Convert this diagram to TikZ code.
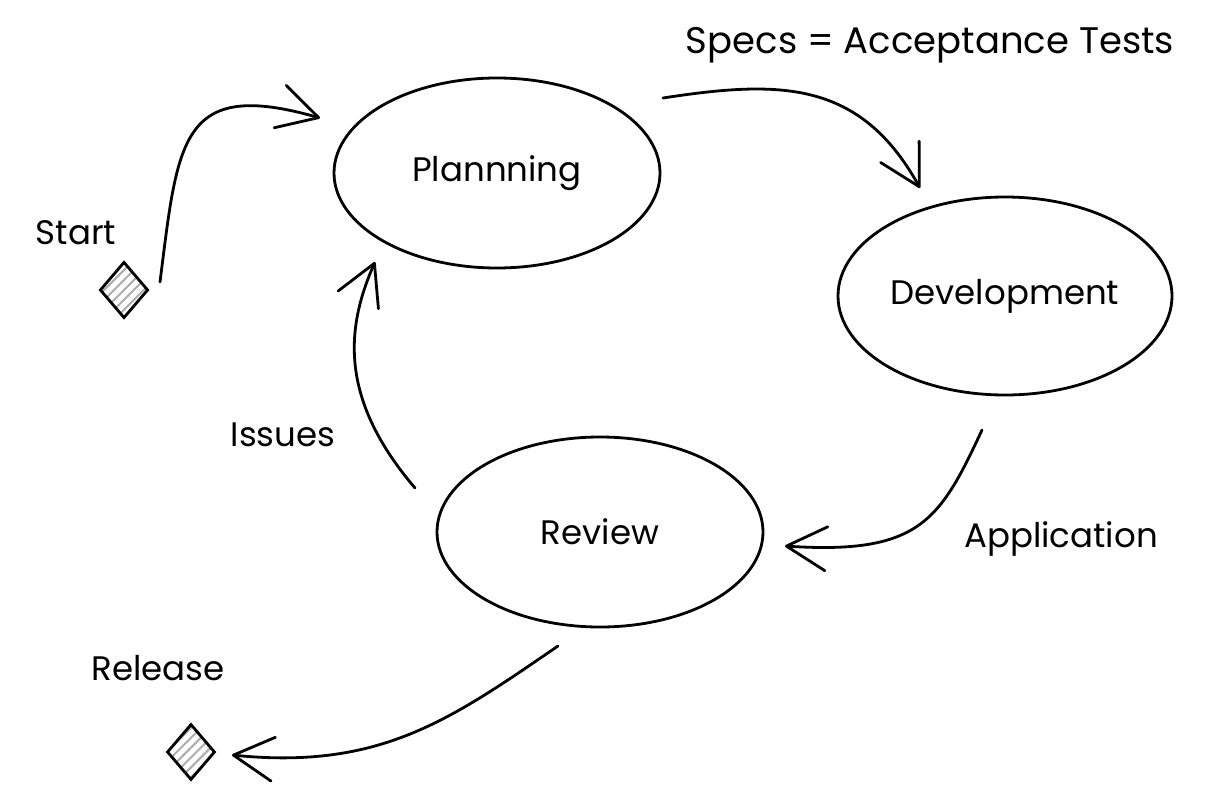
\documentclass[tikz,border=0pt]{standalone}
\usepackage{fontspec}
\setmainfont{Poppins}
\usetikzlibrary{shapes.geometric,arrows.meta,patterns.meta}
\begin{document}
\begin{tikzpicture}[x=1pt,y=-1pt,
  stage/.style={draw, ellipse, line width=2.8pt, inner sep=0pt, minimum width=326pt, minimum height=190pt, font=\fontsize{34}{40}\selectfont},
  gate/.style={draw, diamond, line width=2.8pt, inner sep=0pt, minimum width=48pt, minimum height=56pt,
     pattern={Lines[angle=45,distance=7pt,line width=2pt]}, pattern color=gray!65},
  lbl/.style={font=\fontsize{34}{40}\selectfont, inner sep=0pt},
  flow/.style={line width=2.8pt, line cap=round, line join=round, -{Straight Barb[length=40pt,width=44pt,round]}}
]
\useasboundingbox (0,0) rectangle (1228,800);
\node[stage] (plan) at (497,173) {Plannning};
\node[stage, minimum width=334pt, minimum height=198pt] (dev) at (1005,296) {Development};
\node[stage] (rev) at (600,532) {Review};
\node[gate] (start) at (124,290) {};
\node[gate] (rel) at (191,752) {};

\node[lbl] (tstart) at (76,233) {Start};
\node[lbl] (trel) at (158,668) {Release};
\node[lbl] (tissues) at (283,435) {Issues};
\node[lbl] (tapp) at (1061,539) {Application};
\node[lbl, font=\fontsize{37}{42}\selectfont] (tspecs) at (930,45) {Specs = Acceptance Tests};

\draw[flow] ([shift={(36,-8)}]start.center) .. controls (178,140) and (180,78) .. ([shift={(-177,-55)}]plan.center);
\draw[flow] ([shift={(166,-75)}]plan.center) .. controls (780,80) and (860,80) .. ([shift={(-85,-108)}]dev.center);
\draw[flow] ([shift={(-23,134)}]dev.center) .. controls (940,520) and (920,555) .. ([shift={(185,14)}]rev.center);
\draw[flow] ([shift={(-185,-44)}]rev.center) .. controls (340,400) and (345,330) .. ([shift={(-122,89)}]plan.center);
\draw[flow] ([shift={(-42,114)}]rev.center) .. controls (450,720) and (380,770) .. ([shift={(41,3)}]rel.center);
\end{tikzpicture}
\end{document}
